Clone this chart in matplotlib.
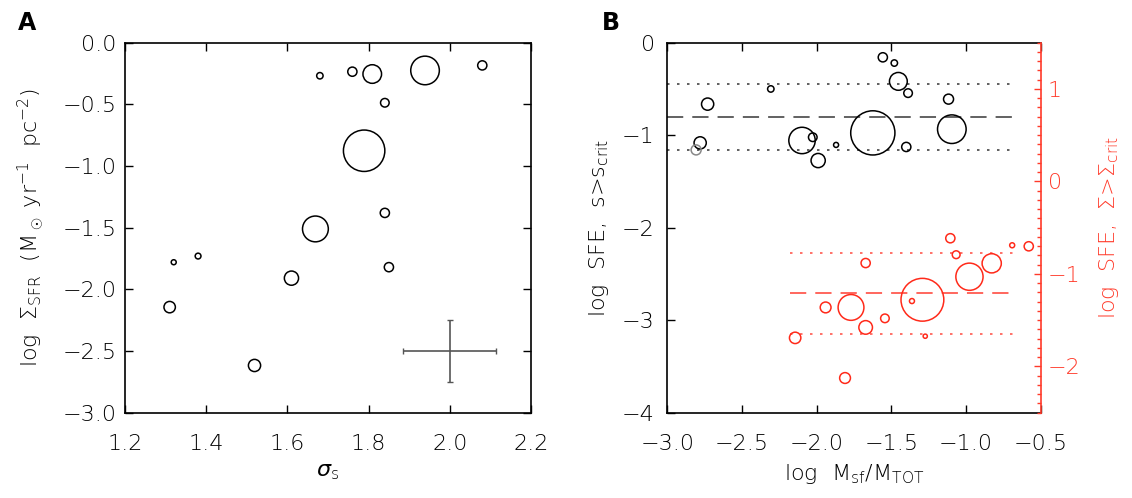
import matplotlib
matplotlib.use("Agg")
import matplotlib.pyplot as plt
import numpy as np
from matplotlib.ticker import MultipleLocator, FuncFormatter

plt.rcParams["font.family"] = ["DejaVu Sans"]
plt.rcParams["font.weight"] = 200
plt.rcParams["axes.labelweight"] = 200
plt.rcParams["mathtext.fontset"] = "custom"
plt.rcParams["mathtext.rm"] = "DejaVu Sans:weight=200"
plt.rcParams["mathtext.it"] = "DejaVu Sans:italic"
plt.rcParams["mathtext.sf"] = "DejaVu Sans:weight=200"

# ---- panel A: sigma_s vs log Sigma_SFR (circle size = cloud size, px radius)
sigma_s = [1.68, 1.76, 1.809, 1.939, 2.08, 1.84, 1.789, 1.84, 1.669,
           1.32, 1.38, 1.61, 1.85, 1.31, 1.519]
log_sfr = [-0.268, -0.235, -0.254, -0.225, -0.184, -0.487, -0.876, -1.38, -1.51,
           -1.78, -1.73, -1.909, -1.82, -2.144, -2.617]
size_a = [3.2, 4.6, 9.3, 14.3, 4.6, 4.3, 20.7, 4.6, 12.9,
          2.5, 2.9, 7.1, 4.6, 5.7, 6.1]
err_center = (2.0, -2.5)
err_x = 0.115
err_y = 0.25

# ---- panel B: log Msf/Mtot vs log SFE (s > s_crit), black
mfrac_s = [-2.73, -2.78, -2.307, -2.098, -2.026, -1.99, -1.87, -1.624,
           -1.557, -1.48, -1.453, -1.388, -1.40, -1.117, -1.095]
sfe_s = [-0.664, -1.083, -0.50, -1.057, -1.022, -1.274, -1.105, -0.975,
         -0.158, -0.22, -0.418, -0.545, -1.127, -0.61, -0.935]
size_s = [6.1, 6.1, 3.2, 13.2, 4.3, 7.1, 2.5, 22.1,
          4.6, 3.2, 8.9, 4.3, 4.6, 5.0, 14.3]
# the single grey point
mfrac_grey = [-2.807]
sfe_grey = [-1.159]
size_grey = [5.0]

# ---- panel B: log SFE (Sigma > Sigma_crit), red, right axis
mfrac_c = [-1.105, -0.691, -0.58, -1.066, -0.828, -1.672, -0.977, -1.292,
           -1.362, -1.273, -1.77, -1.94, -1.543, -1.672, -2.144, -1.81]
sfe_c = [-0.614, -0.69, -0.701, -0.792, -0.885, -0.882, -1.03, -1.279,
         -1.293, -1.673, -1.362, -1.362, -1.48, -1.578, -1.691, -2.125]
size_c = [4.6, 2.5, 4.6, 3.9, 9.6, 4.6, 13.6, 21.4,
          2.5, 2.1, 12.9, 5.4, 4.3, 6.8, 5.7, 5.4]

# mean and +-1 sigma levels
black_mean, black_lo, black_hi = -0.808, -1.155, -0.447
black_span = (-3.0, -0.66)
red_mean, red_lo, red_hi = -1.21, -1.651, -0.777
red_span = (-2.18, -0.66)

RED = "#ff2a1a"
RED_AXIS = "#ff3a2a"
RED_LINE = "#ff5a50"
PX2PT = 0.72


def msize(r):
    return (2 * np.asarray(r) * PX2PT) ** 2


def fmt(spec):
    return FuncFormatter(lambda v, p: (spec % v).replace("-", "\u2212"))


fig = plt.figure(figsize=(11.32, 4.98), dpi=100)
axA = fig.add_axes([125 / 1132, 85.3 / 498, 406 / 1132, 370 / 498])
axB = fig.add_axes([667.3 / 1132, 85.3 / 498, 373.4 / 1132, 370 / 498])

tick_kw = dict(direction="in", length=5.5, width=1.0, labelsize=16)

# ---------------- panel A
axA.scatter(sigma_s, log_sfr, s=msize(size_a), facecolors="none",
            edgecolors="black", linewidths=1.1)
axA.errorbar([err_center[0]], [err_center[1]], xerr=err_x, yerr=err_y,
             fmt="none", ecolor="#555555", elinewidth=1.2, capsize=2.5)
axA.set_xlim(1.2, 2.2)
axA.set_ylim(-3.0, 0.0)
axA.xaxis.set_major_locator(MultipleLocator(0.2))
axA.yaxis.set_major_locator(MultipleLocator(0.5))
axA.xaxis.set_major_formatter(fmt("%.1f"))
axA.yaxis.set_major_formatter(fmt("%.1f"))
axA.tick_params(axis="both", top=True, right=True, **tick_kw)
axA.tick_params(axis="x", pad=15)
axA.tick_params(axis="y", pad=6)
axA.set_xlabel(r"$\sigma_{\rm s}$", fontsize=16, labelpad=6)
axA.set_ylabel(r"log  $\Sigma_{\rm SFR}$  (M$_\odot$ yr$^{-1}$  pc$^{-2}$)",
               fontsize=16, labelpad=12)
for sp in axA.spines.values():
    sp.set_linewidth(1.2)

# ---------------- panel B
axB.hlines([black_mean], *black_span, colors="#555555", linewidth=1.3,
           linestyles=(0, (9, 5)))
axB.hlines([black_lo, black_hi], *black_span, colors="#444444", linewidth=1.2,
           linestyles=(0, (1.5, 4.5)))
axB.scatter(mfrac_s, sfe_s, s=msize(size_s), facecolors="none",
            edgecolors="black", linewidths=1.1, zorder=3)
axB.scatter(mfrac_grey, sfe_grey, s=msize(size_grey), facecolors="none",
            edgecolors="#888888", linewidths=1.1, zorder=3)
axB.set_xlim(-3.0, -0.5)
axB.set_ylim(-4.0, 0.0)
axB.xaxis.set_major_locator(MultipleLocator(0.5))
axB.yaxis.set_major_locator(MultipleLocator(1))
axB.xaxis.set_major_formatter(fmt("%.1f"))
axB.yaxis.set_major_formatter(fmt("%d"))
axB.tick_params(axis="both", top=True, right=False, **tick_kw)
axB.tick_params(axis="x", pad=15)
axB.tick_params(axis="y", pad=9)
axB.set_xlabel(r"log  M$_{\rm sf}$/M$_{\rm TOT}$", fontsize=16, labelpad=6)
axB.set_ylabel(r"log  SFE,  s>s$_{\rm crit}$", fontsize=16, labelpad=8)
axB.spines["right"].set_visible(False)
for sp in axB.spines.values():
    sp.set_linewidth(1.2)

ax2 = axB.twinx()
ax2.set_position(axB.get_position())
ax2.hlines([red_mean], *red_span, colors=RED_LINE, linewidth=1.3,
           linestyles=(0, (9, 5)))
ax2.hlines([red_lo, red_hi], *red_span, colors=RED_LINE, linewidth=1.2,
           linestyles=(0, (1.5, 4.5)))
ax2.scatter(mfrac_c, sfe_c, s=msize(size_c), facecolors="none",
            edgecolors=RED, linewidths=1.1, zorder=3)
ax2.set_ylim(-2.5, 1.5)
ax2.yaxis.set_major_locator(MultipleLocator(1))
ax2.yaxis.set_minor_locator(MultipleLocator(0.1))
ax2.yaxis.set_major_formatter(fmt("%d"))
ax2.tick_params(axis="y", which="major", direction="in", length=5, width=1.0,
                labelsize=16, colors=RED_AXIS, pad=5)
ax2.tick_params(axis="y", which="minor", direction="in", length=2.8,
                width=1.0, colors=RED_AXIS)
ax2.set_ylabel(r"log  SFE,  $\Sigma$>$\Sigma_{\rm crit}$", fontsize=16,
               color=RED_AXIS, labelpad=12)
for name in ("left", "top", "bottom"):
    ax2.spines[name].set_visible(False)
ax2.spines["right"].set_color(RED_AXIS)
ax2.spines["right"].set_linewidth(1.2)

fig.text(18 / 1132, 1 - 30 / 498, "A", fontsize=17, fontweight="bold")
fig.text(602 / 1132, 1 - 30 / 498, "B", fontsize=17, fontweight="bold")

fig.savefig("out.png", dpi=100)
